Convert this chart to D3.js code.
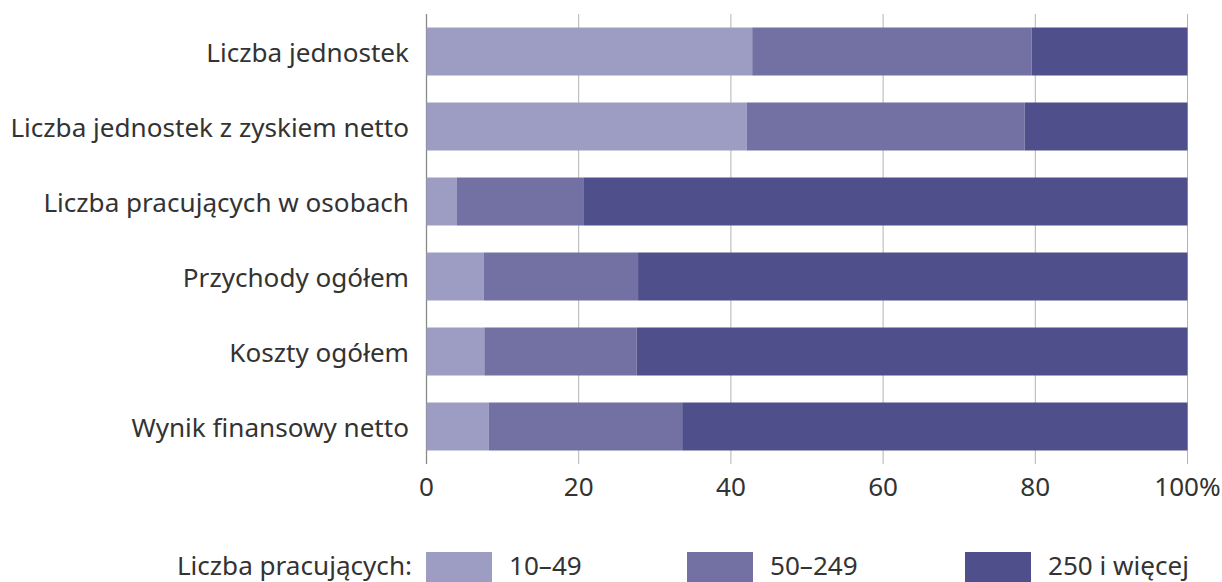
<!DOCTYPE html>
<html lang="pl">
<head>
<meta charset="utf-8">
<script src="https://d3js.org/d3.v7.min.js"></script>
<style>
  body { margin: 0; background: #fff; }
  text { font-family: "Noto Sans", "Open Sans", sans-serif; fill: #333; }
</style>
</head>
<body>
<div id="chart"></div>
<script>
// data (percent shares by company size)
const categories = [
  "Liczba jednostek",
  "Liczba jednostek z zyskiem netto",
  "Liczba pracujących w osobach",
  "Przychody ogółem",
  "Koszty ogółem",
  "Wynik finansowy netto"
];
const seriesNames = ["10–49", "50–249", "250 i więcej"];
const small  = [42.8, 42.1, 4.0, 7.5, 7.6, 8.2];
const medium = [36.7, 36.5, 16.6, 20.3, 20.0, 25.4];
const large  = [20.5, 21.4, 79.4, 72.2, 72.4, 66.4];
const xTicks = [0, 20, 40, 60, 80, 100];
const legendTitle = "Liczba pracujących:";

const colors = ["#9d9dc4", "#7371a4", "#4f508b"];

const W = 1222, H = 582;
const plotL = 426.5, plotR = 1187.5, plotT = 14, plotB = 464;
const fs = "26.1px";

const svg = d3.select("#chart").append("svg")
  .attr("width", W).attr("height", H);

const x = d3.scaleLinear().domain([0, 100]).range([plotL, plotR]);
const y = d3.scaleBand().domain(categories).range([plotT, plotB])
  .paddingInner(0.36).paddingOuter(0.18);

// grid lines
svg.append("g")
  .selectAll("line")
  .data(xTicks)
  .join("line")
    .attr("x1", d => x(d)).attr("x2", d => x(d))
    .attr("y1", plotT).attr("y2", plotB)
    .attr("stroke", d => d === 0 ? "#8a8a8a" : "#b4b4b4")
    .attr("stroke-width", d => d === 0 ? 1.3 : 1);

// stack
const rows = categories.map((c, i) => ({cat: c, s0: small[i], s1: medium[i], s2: large[i]}));
const stack = d3.stack().keys(["s0", "s1", "s2"])(rows);

svg.append("g")
  .selectAll("g")
  .data(stack)
  .join("g")
    .attr("fill", (d, i) => colors[i])
  .selectAll("rect")
  .data(d => d)
  .join("rect")
    .attr("x", d => x(d[0]))
    .attr("width", d => x(d[1]) - x(d[0]))
    .attr("y", d => y(d.data.cat))
    .attr("height", y.bandwidth());

// category labels
svg.append("g")
  .selectAll("text")
  .data(categories)
  .join("text")
    .attr("x", 409)
    .attr("y", d => y(d) + y.bandwidth() / 2)
    .attr("text-anchor", "end")
    .attr("dominant-baseline", "central")
    .style("font-size", fs)
    .text(d => d);

// x tick labels
svg.append("g")
  .selectAll("text")
  .data(xTicks)
  .join("text")
    .attr("x", d => x(d))
    .attr("y", 486)
    .attr("text-anchor", "middle")
    .attr("dominant-baseline", "central")
    .style("font-size", fs)
    .text(d => d === 100 ? "100%" : d);

// legend
const legY = 552, legH = 30, legW = 66;
const legX = [426, 687, 965];
svg.append("text")
  .attr("x", 412).attr("y", legY + 13)
  .attr("text-anchor", "end")
  .attr("dominant-baseline", "central")
  .style("font-size", fs)
  .text(legendTitle);

const leg = svg.append("g")
  .selectAll("g")
  .data(seriesNames)
  .join("g")
    .attr("transform", (d, i) => `translate(${legX[i]},${legY})`);
leg.append("rect")
  .attr("width", legW).attr("height", legH)
  .attr("fill", (d, i) => colors[i]);
leg.append("text")
  .attr("x", legW + 17).attr("y", 13)
  .attr("dominant-baseline", "central")
  .style("font-size", fs)
  .text(d => d);
</script>
</body>
</html>
